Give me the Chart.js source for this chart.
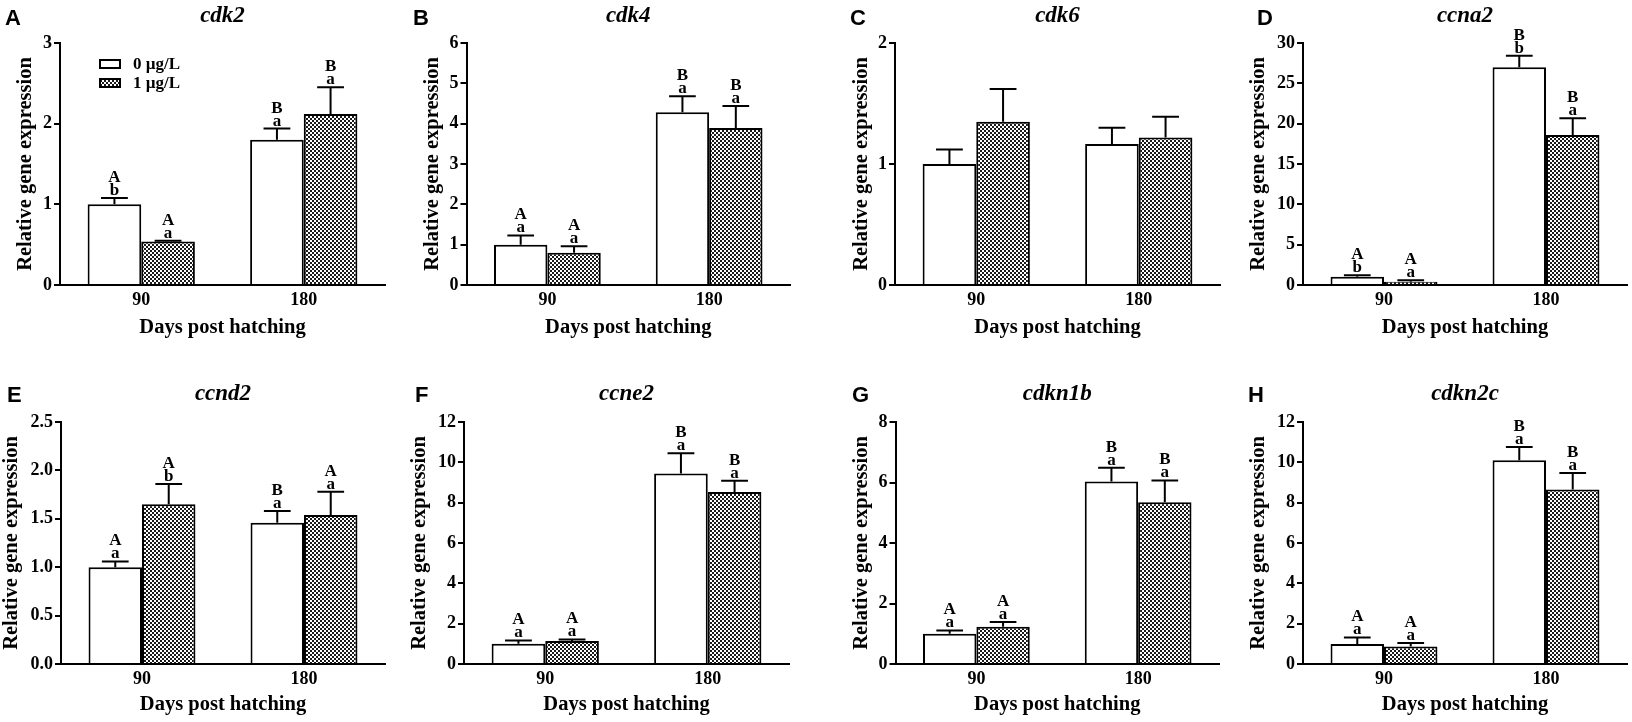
<!DOCTYPE html>
<html>
<head>
<meta charset="utf-8">
<script src="https://cdn.jsdelivr.net/npm/chart.js@4.4.1/dist/chart.umd.min.js"></script>
<style>
  html, body { margin: 0; padding: 0; background: #fff; }
  #wrap { position: relative; width: 1632px; height: 722px; overflow: hidden; }
  #wrap canvas { position: absolute; }
</style>
</head>
<body>
<div id="wrap"></div>
<script>
//------Data------
const panelLetters = ['A', 'B', 'C', 'D', 'E', 'F', 'G', 'H'];
const genes = ['cdk2', 'cdk4', 'cdk6', 'ccna2', 'ccnd2', 'ccne2', 'cdkn1b', 'cdkn2c'];
const days = ['90', '180'];
const seriesNames = ['0 \u00b5g/L', '1 \u00b5g/L'];

// 0 µg/L (control) means and SE, per gene: [90 dph, 180 dph]
const ctrlMean = [[1.0, 1.80], [1.0, 4.28], [1.0, 1.165], [1.03, 26.98], [1.0, 1.46], [1.0, 9.45], [1.0, 6.03], [0.99, 10.1]];
const ctrlSE   = [[0.08, 0.14], [0.23, 0.40], [0.12, 0.135], [0.17, 1.45], [0.06, 0.12], [0.17, 1.00], [0.11, 0.46], [0.33, 0.66]];
// 1 µg/L means and SE
const treatMean = [[0.54, 2.12], [0.80, 3.89], [1.35, 1.22], [0.41, 18.6], [1.65, 1.54], [1.14, 8.53], [1.23, 5.35], [0.87, 8.65]];
const treatSE   = [[0.01, 0.33], [0.16, 0.55], [0.27, 0.17], [0.17, 2.07], [0.21, 0.24], [0.08, 0.56], [0.16, 0.72], [0.17, 0.82]];

// significance letters: upper (between days) + lower (between doses)
const ctrlSig  = [['Ab', 'Ba'], ['Aa', 'Ba'], ['', ''], ['Ab', 'Bb'], ['Aa', 'Ba'], ['Aa', 'Ba'], ['Aa', 'Ba'], ['Aa', 'Ba']];
const treatSig = [['Aa', 'Ba'], ['Aa', 'Ba'], ['', ''], ['Aa', 'Ba'], ['Ab', 'Aa'], ['Aa', 'Ba'], ['Aa', 'Ba'], ['Aa', 'Ba']];

// y axis ticks
const yMax = [3, 6, 2, 30, 2.5, 12, 8, 12];
const yStep = [1, 1, 1, 5, 0.5, 2, 2, 2];
const yDecimals = [0, 0, 0, 0, 1, 0, 0, 0];
//--------------

//------Layout------
const rows = [
  { top: 0, h: 350, chartTop: 43, chartBottom: 285, titleBase: 22, letterBase: 25, xTitlePad: 9.7 },
  { top: 360, h: 362, chartTop: 422, chartBottom: 664, titleBase: 400, letterBase: 402, xTitlePad: 4.7 }
];
const boxes = [
  { row: 0, left: 0,    w: 400, axisX: 60,    right: 385,  yTitleX: 26,   letterX: 5 },
  { row: 0, left: 400,  w: 410, axisX: 466.5, right: 790,  yTitleX: 433,  letterX: 413 },
  { row: 0, left: 810,  w: 412, axisX: 895,   right: 1220, yTitleX: 862,  letterX: 850 },
  { row: 0, left: 1220, w: 412, axisX: 1303,  right: 1627, yTitleX: 1259, letterX: 1257 },
  { row: 1, left: 0,    w: 400, axisX: 61,    right: 385,  yTitleX: 12,   letterX: 7 },
  { row: 1, left: 400,  w: 410, axisX: 464,   right: 789,  yTitleX: 420,  letterX: 415 },
  { row: 1, left: 810,  w: 412, axisX: 895.5, right: 1219, yTitleX: 862,  letterX: 852 },
  { row: 1, left: 1220, w: 412, axisX: 1303,  right: 1627, yTitleX: 1259, letterX: 1248 }
];
const serif = "'Liberation Serif', 'Times New Roman', serif";
const sans = "'Liberation Sans', Arial, sans-serif";
const yTitleSize = 20.5;
//--------------

//--checker fill for the 1 µg/L bars
function makeChecker() {
  const c = document.createElement('canvas');
  c.width = 4; c.height = 4;
  const g = c.getContext('2d');
  g.fillStyle = '#fff';
  g.fillRect(0, 0, 4, 4);
  g.fillStyle = '#1a1a1a';
  g.fillRect(0, 0, 2, 2);
  g.fillRect(2, 2, 2, 2);
  return g.createPattern(c, 'repeat');
}
const checker = makeChecker();

//--error bars (upper only) + significance letters
const errorBars = {
  id: 'errorBars',
  afterDatasetsDraw(chart) {
    const ctx = chart.ctx;
    const y = chart.scales.y;
    chart.data.datasets.forEach((ds, d) => {
      const meta = chart.getDatasetMeta(d);
      meta.data.forEach((bar, i) => {
        const top = y.getPixelForValue(ds.data[i] + ds.errors[i]);
        const half = bar.width / 4;
        ctx.save();
        ctx.strokeStyle = '#000';
        ctx.lineWidth = 2;
        ctx.beginPath();
        ctx.moveTo(bar.x, bar.y);
        ctx.lineTo(bar.x, top);
        ctx.moveTo(bar.x - half, top);
        ctx.lineTo(bar.x + half, top);
        ctx.stroke();
        const sig = ds.sig[i];
        if (sig) {
          ctx.fillStyle = '#000';
          ctx.font = 'bold 17px ' + serif;
          ctx.textAlign = 'center';
          ctx.textBaseline = 'alphabetic';
          ctx.fillText(sig[1], bar.x, top - 3);
          ctx.fillText(sig[0], bar.x, top - 16);
        }
        ctx.restore();
      });
    });
  }
};

//--panel letter, gene name and legend
const panelText = {
  id: 'panelText',
  afterDraw(chart) {
    const opt = chart.options.plugins.panelText;
    const ctx = chart.ctx;
    const area = chart.chartArea;
    ctx.save();
    ctx.fillStyle = '#000';
    ctx.textBaseline = 'alphabetic';
    ctx.textAlign = 'left';
    ctx.font = 'bold 22px ' + sans;
    ctx.fillText(opt.letter, opt.letterX, opt.letterBase);
    ctx.textAlign = 'center';
    ctx.font = 'italic bold 23px ' + serif;
    ctx.fillText(opt.gene, (area.left + area.right) / 2, opt.titleBase);
    if (opt.legend) {
      ctx.textAlign = 'left';
      ctx.textBaseline = 'middle';
      ctx.font = 'bold 17px ' + serif;
      chart.data.datasets.forEach((ds, d) => {
        const top = 59 + d * 19;
        ctx.fillStyle = ds.backgroundColor;
        ctx.fillRect(99, top, 22, 10);
        ctx.strokeStyle = '#000';
        ctx.lineWidth = 2;
        ctx.strokeRect(100, top + 1, 20, 8);
        ctx.fillStyle = '#000';
        ctx.fillText(ds.label, 133, top + 5.5);
      });
    }
    ctx.restore();
  }
};

//--build the eight panels
const wrap = document.getElementById('wrap');

genes.forEach((gene, p) => {
  const b = boxes[p];
  const r = rows[b.row];
  const canvas = document.createElement('canvas');
  canvas.width = b.w;
  canvas.height = r.h;
  canvas.style.left = b.left + 'px';
  canvas.style.top = r.top + 'px';
  canvas.style.width = b.w + 'px';
  canvas.style.height = r.h + 'px';
  wrap.appendChild(canvas);

  const padLeft = b.yTitleX - b.left - yTitleSize * 1.2 / 2;
  const yWidth = b.axisX - b.left - padLeft;
  const xHeight = r.top + r.h - r.chartBottom;

  new Chart(canvas, {
    type: 'bar',
    data: {
      labels: days,
      datasets: [
        {
          label: seriesNames[0],
          data: ctrlMean[p],
          errors: ctrlSE[p],
          sig: ctrlSig[p],
          backgroundColor: '#fff',
          borderColor: '#000',
          borderWidth: 2
        },
        {
          label: seriesNames[1],
          data: treatMean[p],
          errors: treatSE[p],
          sig: treatSig[p],
          backgroundColor: checker,
          borderColor: '#000',
          borderWidth: 2
        }
      ]
    },
    options: {
      responsive: false,
      animation: false,
      events: [],
      categoryPercentage: 0.66,
      barPercentage: 1.0,
      layout: {
        padding: { left: padLeft, top: r.chartTop - r.top, right: b.left + b.w - b.right, bottom: 0 }
      },
      plugins: {
        legend: { display: false },
        tooltip: { enabled: false },
        panelText: {
          letter: panelLetters[p],
          gene: gene,
          letterX: b.letterX - b.left,
          letterBase: r.letterBase - r.top,
          titleBase: r.titleBase - r.top,
          legend: p === 0
        }
      },
      scales: {
        x: {
          grid: { drawOnChartArea: false, drawTicks: false },
          border: { display: true, color: '#000', width: 2 },
          ticks: { color: '#000', padding: 5, font: { family: serif, size: 18, weight: 'bold' } },
          title: {
            display: true,
            text: 'Days post hatching',
            color: '#000',
            padding: { top: 0, bottom: r.xTitlePad },
            font: { family: serif, size: 20.5, weight: 'bold' }
          },
          afterFit(scale) { scale.height = xHeight; }
        },
        y: {
          min: 0,
          max: yMax[p],
          grid: { drawOnChartArea: false, drawTicks: true, tickLength: 6, color: '#000', lineWidth: 2 },
          border: { display: true, color: '#000', width: 2 },
          ticks: {
            stepSize: yStep[p],
            color: '#000',
            padding: 2,
            font: { family: serif, size: 18, weight: 'bold' },
            callback: (v) => Number(v).toFixed(yDecimals[p])
          },
          title: {
            display: true,
            text: 'Relative gene expression',
            color: '#000',
            padding: { top: 0, bottom: 0 },
            font: { family: serif, size: yTitleSize, weight: 'bold' }
          },
          afterFit(scale) { scale.width = yWidth; }
        }
      }
    },
    plugins: [errorBars, panelText]
  });
});
</script>
</body>
</html>
